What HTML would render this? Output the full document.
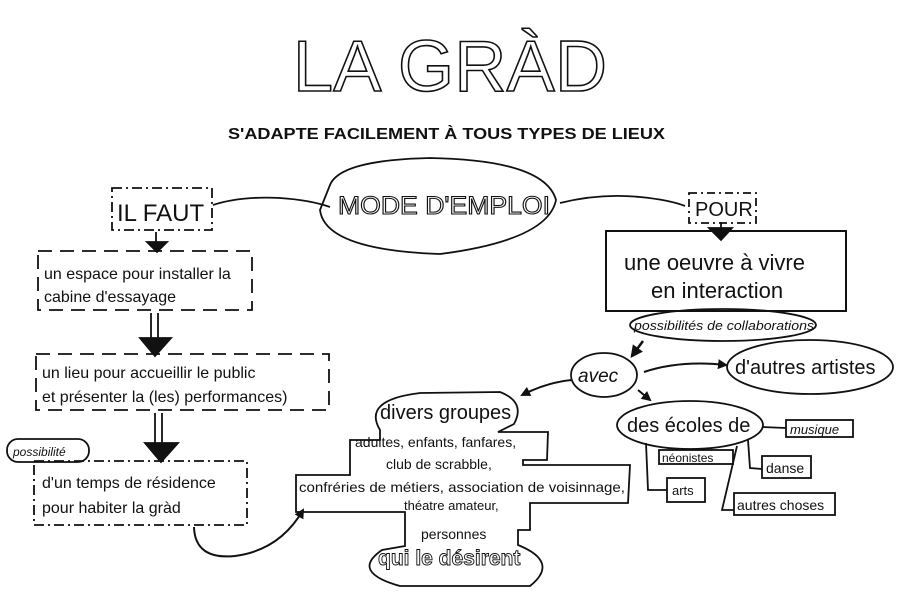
<!DOCTYPE html>
<html><head><meta charset="utf-8"><style>
html,body{margin:0;padding:0;background:#fff;width:900px;height:616px;overflow:hidden}
svg{display:block}
text{font-family:"Liberation Sans",sans-serif;fill:#111}
</style></head><body>
<svg width="900" height="616" viewBox="0 0 900 616" xmlns="http://www.w3.org/2000/svg">
<defs>
<marker id="ah" viewBox="0 0 10 10" refX="8" refY="5" markerWidth="5" markerHeight="5" orient="auto"><path d="M0,0 L10,5 L0,10 Z" fill="#111"/></marker>
</defs>
<g fill="none" stroke="#111" stroke-width="1.8">
<!-- title -->
<text x="293" y="91" font-size="72" textLength="314" lengthAdjust="spacing" style="fill:#fff;stroke:#111;stroke-width:1.6">LA GRÀD</text>
<text x="228" y="139" font-size="16" font-weight="bold" textLength="437" lengthAdjust="spacingAndGlyphs" style="stroke:none">S'ADAPTE FACILEMENT À TOUS TYPES DE LIEUX</text>

<!-- mode d'emploi -->
<path d="M330 185 Q340 160 430 158 Q545 160 556 200 Q548 240 440 254 Q325 250 320 210 Z"/>
<text x="338" y="214" font-size="25" textLength="212" lengthAdjust="spacingAndGlyphs" style="fill:#fff;stroke:#111;stroke-width:1.1">MODE D'EMPLOI</text>
<path d="M213 205 Q240 196 280 198 Q310 200 330 207"/>
<path d="M560 203 Q600 193 640 197 Q670 200 685 206"/>

<!-- IL FAUT -->
<rect x="112" y="188" width="100" height="42" stroke-dasharray="10 4 2 4"/>
<text x="117" y="221" font-size="24" style="stroke:none">IL FAUT</text>
<line x1="156" y1="232" x2="156" y2="242"/>
<path d="M147 242 L167 242 L157 252 Z" fill="#111"/>

<rect x="38" y="251" width="214" height="59" stroke-dasharray="14 8"/>
<text x="44" y="279" font-size="16" style="stroke:none">un espace pour installer la</text>
<text x="44" y="302" font-size="16" style="stroke:none">cabine d'essayage</text>
<line x1="151" y1="313" x2="151" y2="340"/><line x1="158" y1="313" x2="158" y2="340"/>
<path d="M140 338 L171 338 L155 356 Z" fill="#111"/>

<rect x="36" y="354" width="293" height="56" stroke-dasharray="14 8"/>
<text x="42" y="378" font-size="16" style="stroke:none">un lieu pour accueillir le public</text>
<text x="42" y="402" font-size="16" style="stroke:none">et présenter la (les) performances)</text>
<line x1="155" y1="413" x2="155" y2="445"/><line x1="162" y1="413" x2="162" y2="445"/>
<path d="M145 443 L178 443 L161 462 Z" fill="#111"/>

<rect x="7" y="439" width="82" height="23" rx="11"/>
<text x="13" y="456" font-size="12" font-style="italic" style="stroke:none">possibilité</text>
<rect x="34" y="461" width="213" height="64" stroke-dasharray="10 4 2 4"/>
<text x="42" y="488" font-size="16" style="stroke:none">d'un temps de résidence</text>
<text x="42" y="513" font-size="16" style="stroke:none">pour habiter la gràd</text>
<path d="M194 527 Q195 560 235 556 Q280 550 303 510" marker-end="url(#ah)" stroke-width="2"/>

<!-- groupes shape -->
<path d="M380 430 Q362 400 420 393 L500 392 Q526 402 514 424 L498 432 L548 432 L547 460 L523 460 L523 465 L630 465 L628 503 L530 503 L530 530 L518 530 L518 545 Q560 562 530 586 L400 586 Q350 572 382 550 L405 546 L405 512 L296 512 L296 475 L350 475 L350 440 L380 440 Z"/>
<text x="380" y="419" font-size="20" style="stroke:none">divers groupes</text>
<text x="355" y="447" font-size="14" style="stroke:none">adultes, enfants, fanfares,</text>
<text x="386" y="469" font-size="14" style="stroke:none">club de scrabble,</text>
<text x="299" y="492" font-size="14" textLength="326" lengthAdjust="spacingAndGlyphs" style="stroke:none">confréries de métiers, association de voisinnage,</text>
<text x="404" y="510" font-size="13" style="stroke:none">théatre amateur,</text>
<text x="421" y="539" font-size="14" style="stroke:none">personnes</text>
<text x="378" y="565" font-size="21" font-weight="bold" style="fill:#fff;stroke:#111;stroke-width:0.9">qui le désirent</text>

<!-- POUR -->
<rect x="689" y="193" width="67" height="30" stroke-dasharray="8 4 2 4"/>
<text x="695" y="216" font-size="20" style="stroke:none">POUR</text>
<line x1="721" y1="222" x2="721" y2="228"/>
<path d="M709 228 L732 228 L721 240 Z" fill="#111"/>

<rect x="606" y="231" width="240" height="80" stroke-width="2"/>
<text x="624" y="270" font-size="22" style="stroke:none">une oeuvre à vivre</text>
<text x="651" y="298" font-size="22" style="stroke:none">en interaction</text>

<ellipse cx="723" cy="325" rx="93" ry="16"/>
<text x="634" y="330" font-size="13" font-style="italic" textLength="180" lengthAdjust="spacingAndGlyphs" style="stroke:none">possibilités de collaborations</text>
<path d="M643 341 L632 356" marker-end="url(#ah)" stroke-width="2.5"/>

<ellipse cx="604" cy="375" rx="33" ry="22"/>
<text x="578" y="382" font-size="19" font-style="italic" style="stroke:none">avec</text>
<path d="M572 380 Q548 382 522 395" marker-end="url(#ah)" stroke-width="2"/>
<path d="M644 372 Q680 360 726 365" marker-end="url(#ah)" stroke-width="2"/>
<path d="M638 390 L650 400" marker-end="url(#ah)" stroke-width="2"/>

<ellipse cx="810" cy="367" rx="83" ry="27"/>
<text x="735" y="374" font-size="20" style="stroke:none">d'autres artistes</text>

<ellipse cx="690" cy="425" rx="73" ry="24"/>
<text x="627" y="432" font-size="20" style="stroke:none">des écoles de</text>
<path d="M762 427 L786 428"/>
<rect x="786" y="420" width="67" height="17"/>
<text x="790" y="434" font-size="13" font-style="italic" style="stroke:none">musique</text>
<rect x="659" y="450" width="74" height="14"/>
<text x="662" y="462" font-size="12" style="stroke:none">néonistes</text>
<path d="M748 440 L750 468 L762 469"/>
<rect x="762" y="456" width="49" height="22"/>
<text x="766" y="473" font-size="14" style="stroke:none">danse</text>
<path d="M646 443 L648 490 L667 490"/>
<rect x="667" y="478" width="38" height="24"/>
<text x="672" y="495" font-size="13" style="stroke:none">arts</text>
<path d="M737 446 L722 510 L734 510"/>
<rect x="734" y="493" width="101" height="22"/>
<text x="737" y="510" font-size="14" style="stroke:none">autres choses</text>
</g>
</svg>
</body></html>
